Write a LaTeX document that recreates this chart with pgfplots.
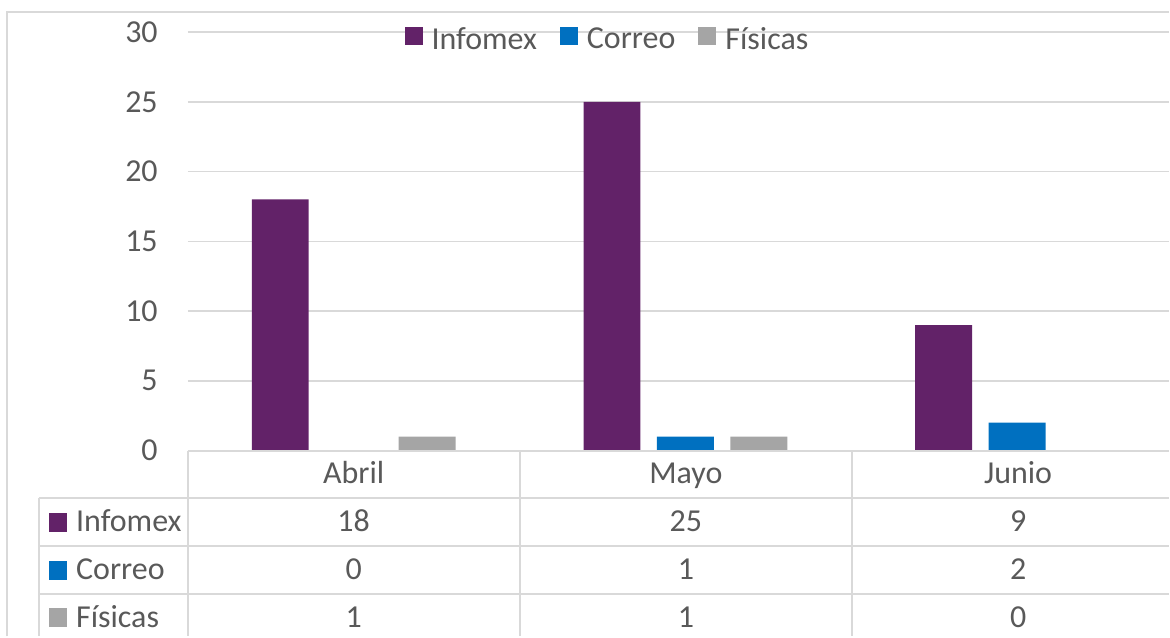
\documentclass[border=0pt]{standalone}
\usepackage{pgfplots}
\usepackage{pgfplotstable}
\pgfplotsset{compat=1.18}
\usepackage{fontspec}
\setmainfont{Carlito}
\definecolor{cinf}{HTML}{622268}
\definecolor{ccor}{HTML}{0070C0}
\definecolor{cfis}{HTML}{A5A5A5}
\definecolor{cgrid}{HTML}{D9D9D9}
\definecolor{ctext}{HTML}{595959}
\pgfplotstableread{
x Infomex Correo Fisicas
0 18 0 1
1 25 1 1
2 9 2 0
}\datatab
\newcommand{\bigfont}{\fontsize{32}{38}\selectfont}
\begin{document}
\begin{tikzpicture}
\path (0pt,0pt) rectangle (1170pt,-637pt);
\begin{axis}[
 at={(188pt,-451pt)}, anchor=south west,
 scale only axis, width=982pt, height=419pt,
 xmin=-0.5, xmax=2.4578, ymin=0, ymax=30,
 ytick={0,5,...,30},
 xtick=\empty,
 ymajorgrids, grid style={cgrid, line width=1.5pt},
 axis line style={draw=none},
 major tick length=0pt,
 ybar=16.5pt, bar width=57pt,
 yticklabel style={font=\bigfont, text=ctext, anchor=east, inner sep=0pt, xshift=-30pt},
 /pgf/number format/assume math mode=true,
 legend style={at={(0.2207,0.9825)}, anchor=west, draw=none, fill=none, inner sep=0pt,
   font=\bigfont, text=ctext, legend columns=3,
   /tikz/every odd column/.append style={column sep=7pt},
   /tikz/every even column/.append style={column sep=21pt}},
 legend cell align=left,
 every axis plot post/.append style={
   legend image code/.code={\fill[##1] (0pt,-6pt) rectangle (18pt,12pt);}},
]
\addplot[fill=cinf, draw=none] table[x=x,y=Infomex]{\datatab};
\addplot[fill=ccor, draw=none] table[x=x,y=Correo]{\datatab};
\addplot[fill=cfis, draw=none] table[x=x,y=Fisicas]{\datatab};
\legend{Infomex, Correo, Físicas}
\end{axis}
% chart area border
\draw[cgrid, line width=1.5pt] (7pt,-637pt) -- (7pt,-12pt) -- (1170pt,-12pt);
% data table
\begin{scope}[cgrid, line width=2pt]
\draw (188pt,-451pt) -- (1170pt,-451pt);
\foreach \yy in {498,546,594} \draw (39pt,-\yy pt) -- (1170pt,-\yy pt);
\draw (39pt,-498pt) -- (39pt,-637pt);
\foreach \xx in {188,520,853} \draw (\xx pt,-451pt) -- (\xx pt,-637pt);
\end{scope}
\foreach \nm/\cx in {Abril/354,Mayo/686.5,Junio/1019}
  \node[anchor=base, inner sep=0pt, font=\bigfont, text=ctext] at (\cx pt,-484pt) {\nm};
\foreach \r/\cx in {0/354,1/686.5,2/1019}{
  \pgfplotstablegetelem{\r}{Infomex}\of\datatab
  \node[anchor=base, inner sep=0pt, font=\bigfont, text=ctext] at (\cx pt,-532pt) {\pgfplotsretval};
  \pgfplotstablegetelem{\r}{Correo}\of\datatab
  \node[anchor=base, inner sep=0pt, font=\bigfont, text=ctext] at (\cx pt,-580pt) {\pgfplotsretval};
  \pgfplotstablegetelem{\r}{Fisicas}\of\datatab
  \node[anchor=base, inner sep=0pt, font=\bigfont, text=ctext] at (\cx pt,-628pt) {\pgfplotsretval};
}
\foreach \nm/\col/\bl in {Infomex/cinf/532,Correo/ccor/580,Físicas/cfis/628}{
  \fill[\col] (49pt,-\bl pt) rectangle (67pt,-\bl pt+19pt);
  \node[anchor=base west, inner sep=0pt, font=\bigfont, text=ctext] at (76pt,-\bl pt) {\nm};
}
\end{tikzpicture}
\end{document}
